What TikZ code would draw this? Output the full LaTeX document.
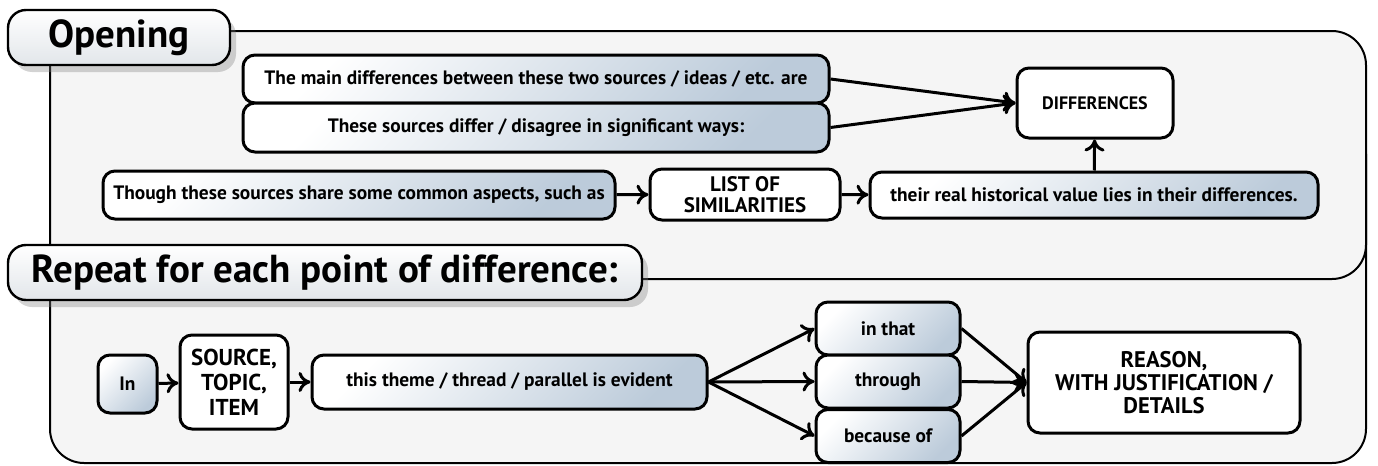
\documentclass[tikz,border=0pt]{standalone}
\usepackage{fontspec}
\setmainfont{PT Sans}
\usepackage{tikz}
\usetikzlibrary{arrows.meta,positioning,shadows}
\definecolor{framegray}{HTML}{F5F5F5}
\definecolor{boxblue}{HTML}{BCCBDA}
\definecolor{titlegray}{HTML}{E2E6EA}
\tikzset{
  frame/.style={draw, line width=1pt, fill=framegray, rounded corners=17pt},
  titlebox/.style={draw, line width=1.2pt, rounded corners=9pt, top color=white,
    bottom color=titlegray, inner sep=0pt, font=\fontsize{19.5}{22}\selectfont\bfseries,
    drop shadow={shadow xshift=3pt, shadow yshift=-3.5pt, opacity=0.35}},
  phrase/.style={draw, line width=1.5pt, rounded corners=6pt, top color=white,
    bottom color=boxblue, shading angle=45, inner sep=0pt, align=center,
    font=\fontsize{9.7}{12}\selectfont\bfseries},
  slot/.style={draw, line width=1.5pt, rounded corners=6pt, fill=white, inner sep=0pt,
    align=center, font=\fontsize{9}{11}\selectfont\bfseries},
  link/.style={-{To[length=6pt,width=10pt]}, line width=1.5pt},
}
\begin{document}
\begin{tikzpicture}[x=0.5pt, y=-0.5pt]
  \useasboundingbox (0,0) rectangle (1378,466);
  % the two frames
  \draw[frame] (50,120) rectangle (1366,463);
  \draw[frame] (50,31) rectangle (1366,279);

  % section titles
  \node[titlebox, minimum width=111pt, minimum height=27.5pt] (opening) at (119,37.5) {Opening};
  \node[titlebox, minimum width=317pt, minimum height=27.5pt] (repeat) at (325,272.5) {Repeat for each point of difference:};

  % opening sentences
  \node[phrase, minimum width=293pt, minimum height=24pt] (main) at (536,79)
    {The main differences between these two sources / ideas / etc. are};
  \node[phrase, minimum width=293pt, minimum height=24.5pt] (differ) at (536,127.5)
    {These sources differ / disagree in significant ways:};
  \node[slot, minimum width=78pt, minimum height=35pt] (diff) at (1095,103) {DIFFERENCES};
  \node[phrase, minimum width=256pt, minimum height=24pt] (though) at (359,195)
    {Though these sources share some common aspects, such as};
  \node[slot, minimum width=95pt, minimum height=25.5pt, font=\fontsize{10.5}{10.5}\selectfont\bfseries]
    (similar) at (745,194.5) {LIST OF\\SIMILARITIES};
  \node[phrase, minimum width=224pt, minimum height=23pt] (value) at (1094,195)
    {their real historical value lies in their differences.};

  \draw[link] (main.east) -- (diff.west);
  \draw[link] (differ.east) -- (diff.west);
  \draw[link] (though) -- (similar);
  \draw[link] (similar) -- (value);
  \draw[link] (value) -- (diff);

  % one point of difference
  \node[phrase, minimum width=29.5pt, minimum height=29pt] (inword) at (127.5,384) {In};
  \node[slot, minimum width=54pt, minimum height=47pt, font=\fontsize{11.5}{12.5}\selectfont\bfseries]
    (source) at (234,382) {SOURCE,\\TOPIC,\\ITEM};
  \node[phrase, minimum width=197.5pt, minimum height=27pt] (theme) at (509.5,382)
    {this theme / thread / parallel is evident};
  \foreach \n/\lbl/\y in {inthat/in that/328.5, through/through/381.5, because/because of/436}
    \node[phrase, minimum width=72pt, minimum height=26.5pt] (\n) at (888,\y) {\lbl};
  \node[slot, minimum width=136pt, minimum height=50.5pt, font=\fontsize{11.3}{11.3}\selectfont\bfseries]
    (reason) at (1164,382.5) {REASON,\\WITH JUSTIFICATION /\\DETAILS};

  \draw[link] (inword) -- (source);
  \draw[link] (source) -- (theme);
  \foreach \n in {inthat, through, because} {
    \draw[link] (theme.east) -- (\n.west);
    \draw[link] (\n.east) -- (reason.west);
  }
\end{tikzpicture}
\end{document}
